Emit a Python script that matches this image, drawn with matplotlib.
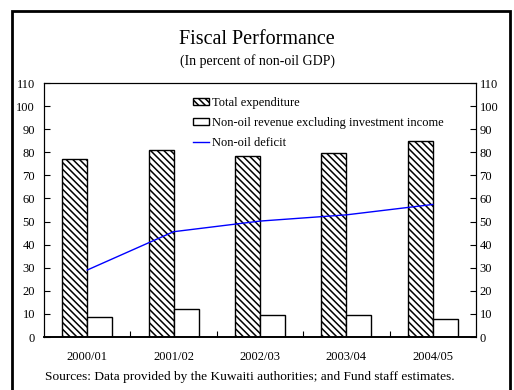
import matplotlib.pyplot as plt
import matplotlib.patches as mpatches
import numpy as np

plt.rcParams['font.family'] = ['Liberation Serif', 'DejaVu Serif']
plt.rcParams['hatch.linewidth'] = 1.1

years = ["2000/01", "2001/02", "2002/03", "2003/04", "2004/05"]
total_expenditure = [77.0, 81.2, 78.5, 79.5, 85.0]
nonoil_revenue = [8.5, 12.3, 9.5, 9.5, 7.7]
nonoil_deficit = [29.0, 45.6, 50.2, 52.9, 57.4]

fig = plt.figure(figsize=(5.14, 3.9), dpi=100)
ax = fig.add_axes([44 / 514, 1 - 337 / 390, 432 / 514, 254 / 390])

x = np.arange(len(years))
w = 0.29
b1 = ax.bar(x - w / 2, total_expenditure, width=w, facecolor='white', edgecolor='black',
            hatch='\\\\\\\\\\', linewidth=1.0)
b2 = ax.bar(x + w / 2, nonoil_revenue, width=w, facecolor='white', edgecolor='black',
            linewidth=1.0)
ln, = ax.plot(x, nonoil_deficit, color='#0000ff', linewidth=1.0)

ax.set_xlim(-0.5, len(years) - 0.5)
ax.set_ylim(0, 110)
ax.set_yticks(range(0, 111, 10))
ax.set_xticks(x)
ax.set_xticklabels(years)
ax.set_xticks(np.arange(0.5, len(years) - 0.5), minor=True)

# right-hand scale mirrors the left one
ax2 = ax.twinx()
ax2.set_ylim(ax.get_ylim())
ax2.set_yticks(range(0, 111, 10))

ax.tick_params(axis='y', direction='in', length=4, width=0.8, labelsize=9, pad=6.5)
ax2.tick_params(axis='y', direction='in', length=4, width=0.8, labelsize=9, pad=2.5)
ax.tick_params(axis='x', which='major', length=0, labelsize=9, pad=10)
ax.tick_params(axis='x', which='minor', direction='in', length=4, width=0.8)
for a in (ax, ax2):
    for side in ['top', 'left', 'right']:
        a.spines[side].set_linewidth(0.8)
    a.spines['bottom'].set_linewidth(1.2)

leg = ax2.legend([b1, b2, ln],
                 ['Total expenditure', 'Non-oil revenue excluding investment income',
                  'Non-oil deficit'],
                 loc='upper left', bbox_to_anchor=(0.345, 0.945), frameon=False,
                 fontsize=9, handlelength=1.28, handleheight=0.5, handletextpad=0.2,
                 labelspacing=0.64, borderaxespad=0, borderpad=0)

fig.text(0.5, 1 - 39 / 390, "Fiscal Performance", ha='center', va='center', fontsize=14.5)
fig.text(0.5, 1 - 61.5 / 390, "(In percent of non-oil GDP)", ha='center', va='center',
         fontsize=10)
fig.text(45 / 514, 1 - 377 / 390,
         "Sources: Data provided by the Kuwaiti authorities; and Fund staff estimates.",
         ha='left', va='center', fontsize=9.6)

# frame around the whole exhibit, bottom edge runs off the page
fig.patches.append(mpatches.Rectangle((12 / 514, -0.05), 498 / 514, 1.05 - 11 / 390,
                                      transform=fig.transFigure, fill=False,
                                      edgecolor='black', linewidth=2.0))

fig.savefig('out.png', dpi=100)
